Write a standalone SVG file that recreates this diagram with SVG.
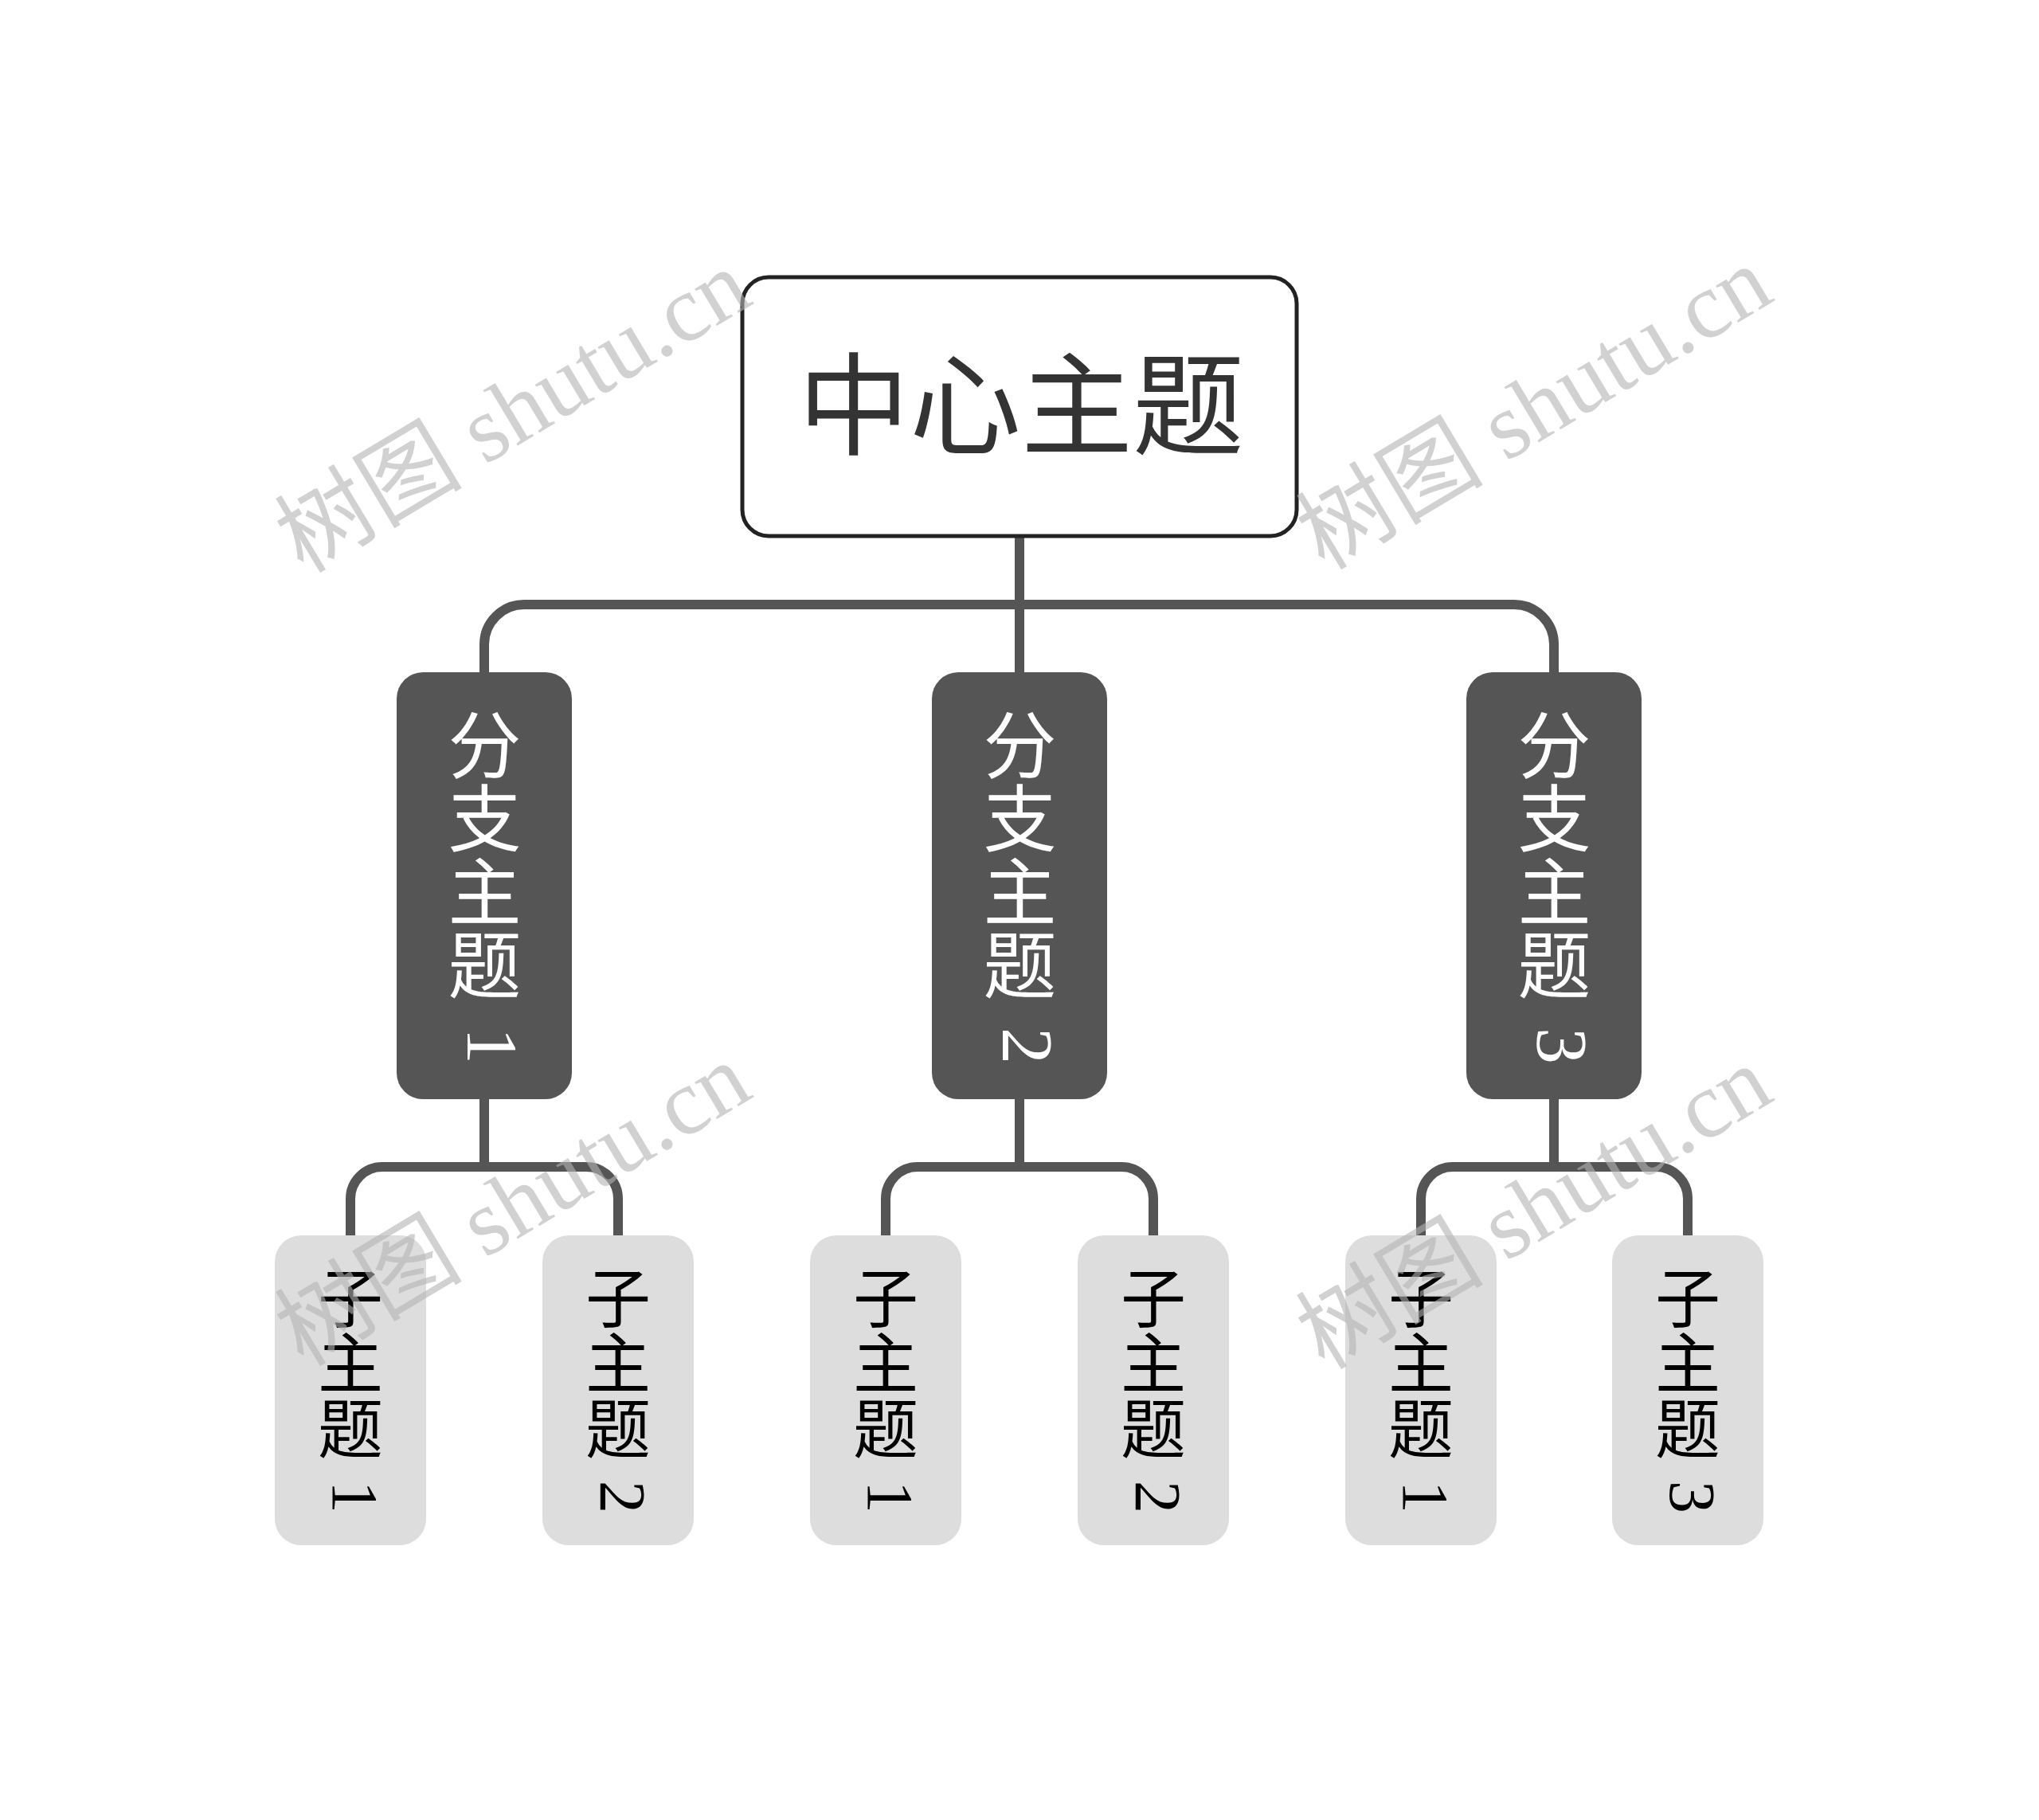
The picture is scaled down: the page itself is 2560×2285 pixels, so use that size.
<svg xmlns="http://www.w3.org/2000/svg" width="2560" height="2285" viewBox="0 0 2560 2285">
<style>
.conn{fill:none;stroke:#555555;stroke-width:12}
.center{fill:#ffffff;stroke:#222222;stroke-width:5}
.branch{fill:#555555}
.child{fill:#dddddd}
.t{font-family:'Liberation Serif','Noto Sans CJK SC',serif}
.vt{writing-mode:vertical-rl;text-anchor:start}
.wm{font-family:'Liberation Serif','Noto Sans CJK SC',serif;font-size:118px;fill:#b4b4b4;opacity:0.6;text-anchor:middle}
</style>
<rect width="2560" height="2285" fill="#ffffff"/>
<g id="connectors">
<path class="conn" d="M608,844 V809 A50,50 0 0 1 658,759 H1901 A50,50 0 0 1 1951,809 V844"/>
<path class="conn" d="M1280,673 V844"/>
<path class="conn" d="M608,1380 V1465"/>
<path class="conn" d="M440,1551 V1505 A40,40 0 0 1 480,1465 H736 A40,40 0 0 1 776,1505 V1551"/>
<path class="conn" d="M1280,1380 V1465"/>
<path class="conn" d="M1112,1551 V1505 A40,40 0 0 1 1152,1465 H1408 A40,40 0 0 1 1448,1505 V1551"/>
<path class="conn" d="M1951,1380 V1465"/>
<path class="conn" d="M1784,1551 V1505 A40,40 0 0 1 1824,1465 H2079 A40,40 0 0 1 2119,1505 V1551"/>
</g>
<g id="center">
<rect class="center" x="932" y="348" width="696" height="325" rx="33"/>
<text class="t" x="1282" y="560" font-size="140" fill="#333333" text-anchor="middle">中心主题</text>
</g>
<g id="branch1">
<rect class="branch" x="498" y="844" width="220" height="536" rx="33"/>
<text class="t vt" x="599" y="889" font-size="92" fill="#ffffff">分支主题 <tspan dx="19" dy="10">1</tspan></text>
</g>
<g id="branch2">
<rect class="branch" x="1170" y="844" width="220" height="536" rx="33"/>
<text class="t vt" x="1271" y="889" font-size="92" fill="#ffffff">分支主题 <tspan dx="19" dy="10">2</tspan></text>
</g>
<g id="branch3">
<rect class="branch" x="1841" y="844" width="220" height="536" rx="33"/>
<text class="t vt" x="1942" y="889" font-size="92" fill="#ffffff">分支主题 <tspan dx="19" dy="10">3</tspan></text>
</g>
<g id="child1-1">
<rect class="child" x="345" y="1551" width="190" height="389" rx="33"/>
<text class="t vt" x="432" y="1588" font-size="82" fill="#000000">子主题 <tspan dx="13" dy="4">1</tspan></text>
</g>
<g id="child1-2">
<rect class="child" x="681" y="1551" width="190" height="389" rx="33"/>
<text class="t vt" x="768" y="1588" font-size="82" fill="#000000">子主题 <tspan dx="13" dy="4">2</tspan></text>
</g>
<g id="child2-1">
<rect class="child" x="1017" y="1551" width="190" height="389" rx="33"/>
<text class="t vt" x="1104" y="1588" font-size="82" fill="#000000">子主题 <tspan dx="13" dy="4">1</tspan></text>
</g>
<g id="child2-2">
<rect class="child" x="1353" y="1551" width="190" height="389" rx="33"/>
<text class="t vt" x="1440" y="1588" font-size="82" fill="#000000">子主题 <tspan dx="13" dy="4">2</tspan></text>
</g>
<g id="child3-1">
<rect class="child" x="1689" y="1551" width="190" height="389" rx="33"/>
<text class="t vt" x="1776" y="1588" font-size="82" fill="#000000">子主题 <tspan dx="13" dy="4">1</tspan></text>
</g>
<g id="child3-2">
<rect class="child" x="2024" y="1551" width="190" height="389" rx="33"/>
<text class="t vt" x="2111" y="1588" font-size="82" fill="#000000">子主题 <tspan dx="13" dy="4">3</tspan></text>
</g>
<g id="watermarks">
<text class="wm" transform="translate(645,518) rotate(-31)" x="0" y="38">树图 shutu.cn</text>
<text class="wm" transform="translate(1927,514) rotate(-31)" x="0" y="38">树图 shutu.cn</text>
<text class="wm" transform="translate(645,1514) rotate(-31)" x="0" y="38">树图 shutu.cn</text>
<text class="wm" transform="translate(1927,1518) rotate(-31)" x="0" y="38">树图 shutu.cn</text>
</g>
</svg>
